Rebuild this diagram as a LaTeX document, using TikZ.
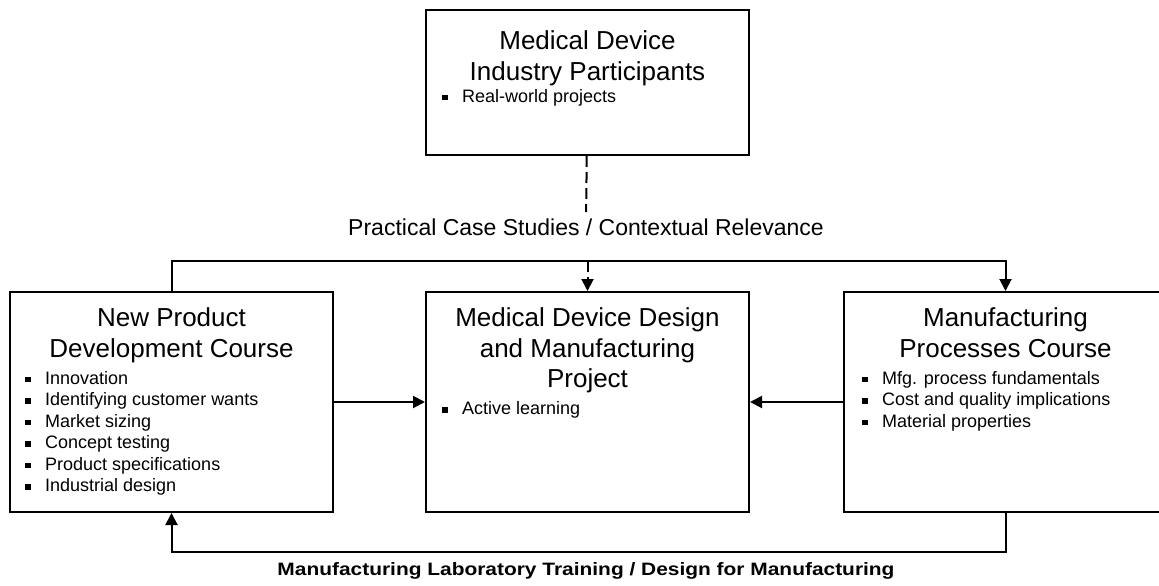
\documentclass[tikz,border=0pt]{standalone}
\usepackage{fontspec}
\setmainfont{Liberation Sans}
\usetikzlibrary{positioning,calc,arrows.meta}

\newcommand{\itm}{\makebox[20pt][l]{\rule[2pt]{5.5pt}{5.5pt}}}

\tikzset{
  unit/.style={draw, line width=2pt, minimum width=323pt, inner sep=0pt, anchor=north west},
  heading/.style={font=\fontsize{26}{30.5}\selectfont, align=center, inner sep=0pt},
  points/.style={font=\fontsize{18}{21.5}\selectfont, align=left, inner sep=0pt, anchor=north west},
  caption/.style={font=\fontsize{23}{28}\selectfont, inner sep=6pt, anchor=base},
  link/.style={line width=2pt, -{Triangle[length=12pt,width=12pt]}},
}

\begin{document}
\begin{tikzpicture}[x=1pt, y=-1pt]
  \useasboundingbox (0,0) rectangle (1159,586);
  \clip (0,0) rectangle (1159,586);

  % boxes
  \node[unit, minimum height=145pt] (industry) at (425,9) {};
  \node[unit, minimum height=220pt] (npd) at (9,291) {};
  \node[unit, minimum height=220pt] (project) at (425,291) {};
  \node[unit, minimum height=220pt] (mfg) at (843,291) {};

  % headings
  \node[heading, below=19pt of industry.north] (industryhead)
    {Medical Device\strut\\Industry Participants\strut};
  \node[heading, below=14pt of npd.north] (npdhead)
    {New Product\strut\\Development Course\strut};
  \node[heading, below=14pt of project.north] (projecthead)
    {Medical Device Design\strut\\and Manufacturing\strut\\Project\strut};
  \node[heading, below=14pt of mfg.north] (mfghead)
    {Manufacturing\strut\\Processes Course\strut};

  % bullet lists
  \node[points] (industrylist) at ($(industryhead.south -| industry.west)+(17,-2.2)$)
    {\itm Real-world projects\strut};
  \node[points] (npdlist) at ($(npdhead.south -| npd.west)+(16,2.8)$)
    {\itm Innovation\strut\\
     \itm Identifying customer wants\strut\\
     \itm Market sizing\strut\\
     \itm Concept testing\strut\\
     \itm Product specifications\strut\\
     \itm Industrial design\strut};
  \node[points] (projectlist) at ($(projecthead.south -| project.west)+(17,2.8)$)
    {\itm Active learning\strut};
  \node[points] (mfglist) at ($(mfghead.south -| mfg.west)+(19,2.8)$)
    {\itm Mfg. process fundamentals\strut\\
     \itm Cost and quality implications\strut\\
     \itm Material properties\strut};

  % labels
  \node[caption] (relevance) at (586,235) {Practical Case Studies / Contextual Relevance};
  \node[anchor=base, inner sep=0pt] (training) at (586,575)
    {\resizebox{617pt}{13pt}{\bfseries Manufacturing Laboratory Training / Design for Manufacturing}};

  % junction points
  \coordinate (junction) at (project.north |- 0,261);
  \coordinate (topleft) at (npd.north |- junction);
  \coordinate (topright) at (mfg.north |- junction);
  \coordinate (botright) at (mfg.south |- 0,552);
  \coordinate (botleft) at (npd.south |- botright);

  % connectors
  \draw[line width=2pt, dash pattern=on 11pt off 5pt] (industry) -- (relevance);
  \draw[link, dash pattern=on 11pt off 5pt] (junction) -- (project.north);
  \draw[link] (npd.north) -- (topleft) -- (topright) -- (mfg.north);
  \draw[link] (npd) -- (project);
  \draw[link] (mfg) -- (project);
  \draw[link] (mfg.south) -- (botright) -- (botleft) -- (npd.south);
\end{tikzpicture}
\end{document}
